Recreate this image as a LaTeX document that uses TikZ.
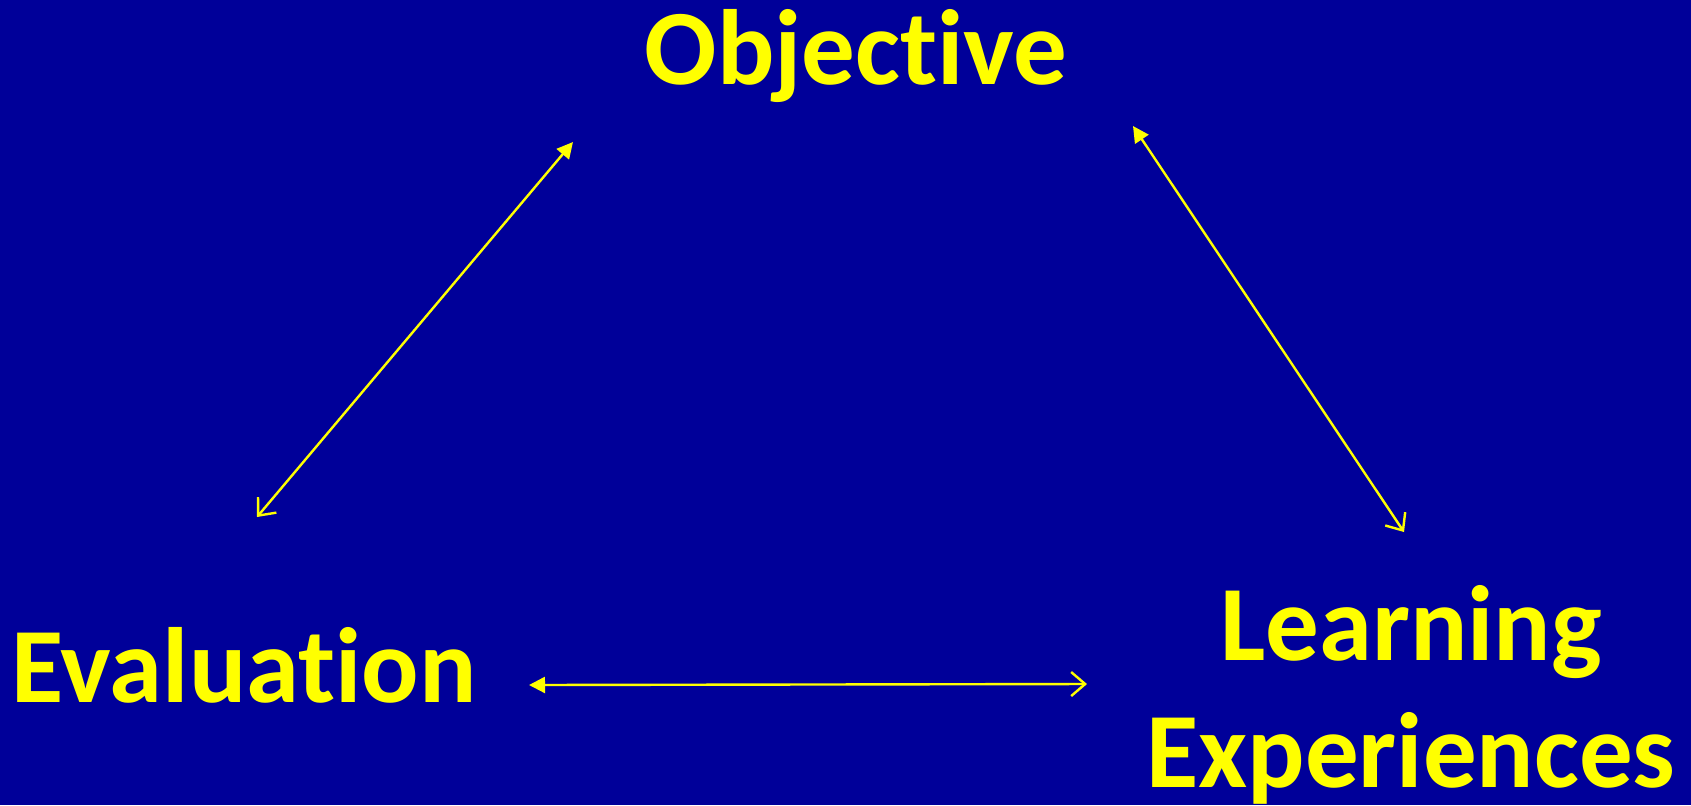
\documentclass[tikz,border=0pt]{standalone}
\usepackage{fontspec}
\setmainfont[Ligatures=NoCommon]{Carlito}
\usetikzlibrary{arrows.meta}
\definecolor{slideblue}{RGB}{0,0,153}
\definecolor{slideyellow}{RGB}{255,255,0}
\tikzset{
  stage/.style={text=slideyellow, font=\fontsize{53.5}{63.5}\selectfont\bfseries, align=center, inner sep=0pt, anchor=base},
  link/.style={draw=slideyellow, line width=1.2pt, {Triangle[length=8pt,width=8pt]}-{Straight Barb[length=7pt,width=12pt]}}
}
\begin{document}
\begin{tikzpicture}[x=0.5pt,y=-0.5pt]
\fill[slideblue] (0,0) rectangle (1691,805);
\node[stage] (obj) at (856,84) {Objective};
\node[stage] (eval) at (244,702) {Evaluation};
\node[stage] (learn) at (1411,787) {Learning\\Experiences};
\coordinate (oe) at (573,142);
\coordinate (eo) at (257,517);
\coordinate (ol) at (1133,126);
\coordinate (lo) at (1404,532);
\coordinate (el) at (529,685);
\coordinate (le) at (1087,684);
\draw[link] (oe) -- (eo);
\draw[link] (ol) -- (lo);
\draw[link] (el) -- (le);
\end{tikzpicture}
\end{document}
